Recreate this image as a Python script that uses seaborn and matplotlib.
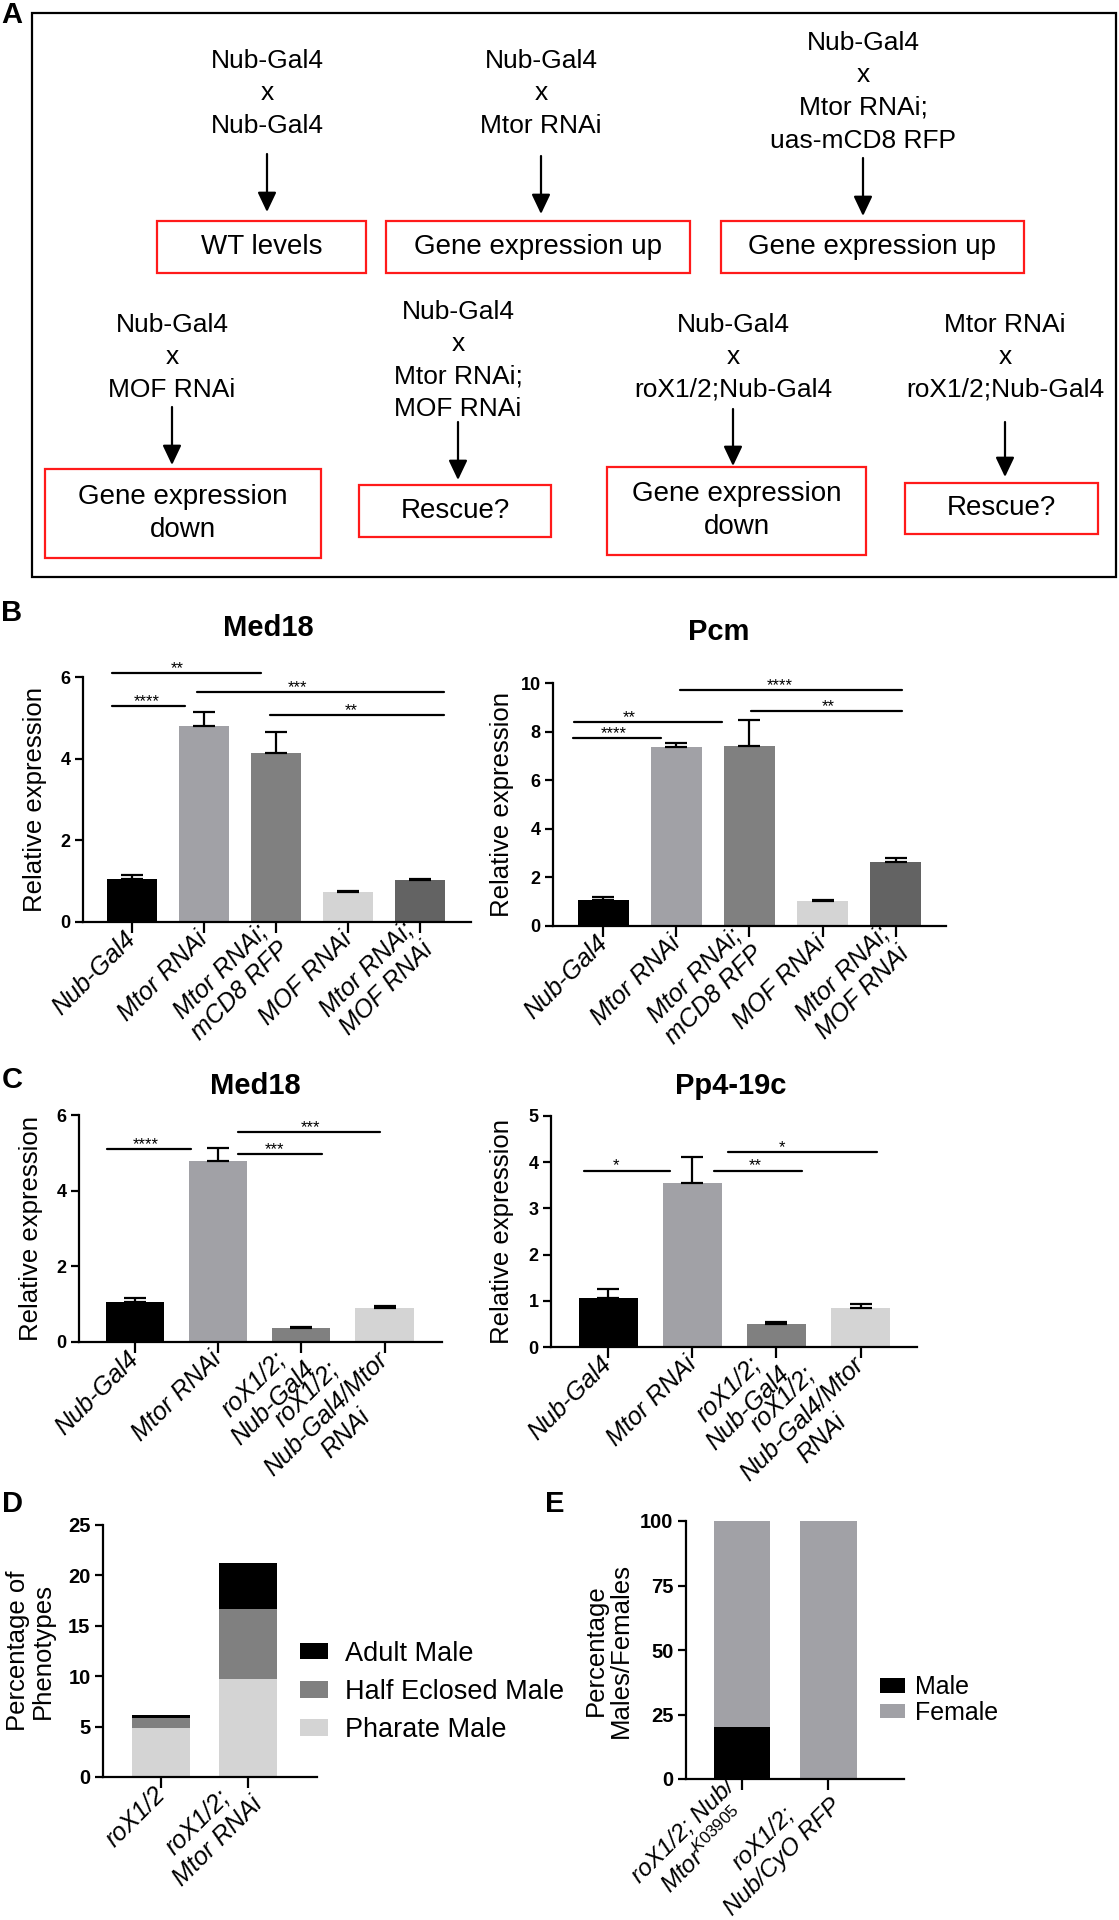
import numpy as np
import pandas as pd
import matplotlib.pyplot as plt
import seaborn as sns
from matplotlib.patches import Rectangle, Patch

# ---- panel A: crosses and expected outcome
crosses = ["Nub-Gal4\nx\nNub-Gal4", "Nub-Gal4\nx\nMtor RNAi", "Nub-Gal4\nx\nMtor RNAi;\nuas-mCD8 RFP",
           "Nub-Gal4\nx\nMOF RNAi", "Nub-Gal4\nx\nMtor RNAi;\nMOF RNAi",
           "Nub-Gal4\nx\nroX1/2;Nub-Gal4", "Mtor RNAi\nx\nroX1/2;Nub-Gal4"]
outcomes = ["WT levels", "Gene expression up", "Gene expression up", "Gene expression\ndown",
            "Rescue?", "Gene expression\ndown", "Rescue?"]

# ---- panel B
b_groups = ["Nub-Gal4", "Mtor RNAi", "Mtor RNAi;\nmCD8 RFP", "MOF RNAi", "Mtor RNAi;\nMOF RNAi"]
b_colors = ["#000000", "#a1a1a6", "#808080", "#d4d4d4", "#636363"]
med18_b = [1.05, 4.80, 4.13, 0.74, 1.04]
med18_b_err = [0.10, 0.34, 0.52, 0.03, 0.02]
pcm_b = [1.07, 7.35, 7.40, 1.03, 2.64]
pcm_b_err = [0.11, 0.20, 1.06, 0.02, 0.17]
# significance bars: (from, to, height, text x, stars)
med18_b_sig = [(-0.28, 1.79, 6.10, 0.63, "**"), (-0.28, 0.74, 5.28, 0.20, "****"),
               (0.91, 4.33, 5.63, 2.30, "***"), (1.92, 4.33, 5.06, 3.04, "**")]
pcm_b_sig = [(1.05, 4.09, 9.72, 2.41, "****"), (2.02, 4.09, 8.86, 3.08, "**"),
             (-0.40, 1.63, 8.38, 0.36, "**"), (-0.42, 0.79, 7.72, 0.14, "****")]

# ---- panel C
c_groups = ["Nub-Gal4", "Mtor RNAi", "roX1/2;\nNub-Gal4", "roX1/2;\nNub-Gal4/Mtor\nRNAi"]
c_colors = ["#000000", "#a1a1a6", "#808080", "#d4d4d4"]
med18_c = [1.05, 4.79, 0.38, 0.90]
med18_c_err = [0.11, 0.35, 0.02, 0.04]
pp4_c = [1.06, 3.54, 0.50, 0.84]
pp4_c_err = [0.19, 0.57, 0.04, 0.08]
med18_c_sig = [(-0.33, 0.67, 5.09, 0.13, "****"), (1.24, 2.95, 5.56, 2.11, "***"),
               (1.24, 2.25, 4.97, 1.68, "***")]
pp4_c_sig = [(-0.29, 0.74, 3.82, 0.09, "*"), (1.42, 3.19, 4.21, 2.07, "*"),
             (1.26, 2.30, 3.82, 1.75, "**")]

# ---- panel D
d_groups = ["roX1/2", "roX1/2;\nMtor RNAi"]
d_pharate = [4.90, 9.76]
d_half = [0.95, 6.86]
d_adult = [0.28, 4.61]
d_names = ["Adult Male", "Half Eclosed Male", "Pharate Male"]

# ---- panel E
e_groups = ["roX1/2; Nub/\nMtor$^{\\mathit{K03905}}$", "roX1/2;\nNub/CyO RFP"]
e_male = [20, 0]
e_female = [80, 100]

sns.set_theme(style="ticks")
plt.rcParams["font.family"] = ["Liberation Sans", "DejaVu Sans"]
plt.rcParams["mathtext.fontset"] = "custom"
plt.rcParams["mathtext.it"] = "Liberation Sans:italic"
plt.rcParams["mathtext.rm"] = "Liberation Sans"
for k in ["axes.edgecolor", "xtick.color", "ytick.color", "text.color", "axes.labelcolor"]:
    plt.rcParams[k] = "black"

W, H = 1119, 1920
fig = plt.figure(figsize=(W / 100, H / 100), dpi=100)


def add_ax(x0, y0, x1, y1):
    return fig.add_axes([x0 / W, 1 - y1 / H, (x1 - x0) / W, (y1 - y0) / H])


def fig_text(x, y, s, **kw):
    fig.text(x / W, 1 - y / H, s, **kw)


def style_ax(ax, groups, ylim, yticks, xlim, ylabel, lab_x, tick_size=13, xsize=18):
    ax.set_ylim(*ylim)
    ax.set_xlim(*xlim)
    sns.despine(ax=ax)
    for s in ["left", "bottom"]:
        ax.spines[s].set_linewidth(1.6)
    ax.tick_params(axis="y", width=1.6, length=6, pad=3)
    ax.tick_params(axis="x", width=1.6, length=8, pad=2)
    ax.set_yticks(yticks)
    ax.set_yticklabels([str(t) for t in yticks], fontweight="bold", fontsize=tick_size)
    ax.set_xticks(range(len(groups)))
    ax.set_xticklabels(groups, rotation=45, ha="right", va="center", rotation_mode="anchor",
                       fontsize=xsize, fontstyle="italic", multialignment="center")
    ax.set_xlabel("")
    ax.set_ylabel(ylabel, fontsize=18.5, linespacing=1.05)
    ax.yaxis.set_label_coords(lab_x, 0.5)


def expr_panel(ax, groups, values, errors, colors, sigs):
    sns.barplot(x=groups, y=values, hue=groups, palette=colors, width=0.7, saturation=1,
                linewidth=0, legend=False, ax=ax)
    n = len(values)
    ax.errorbar(np.arange(n), values, yerr=[np.zeros(n), errors], fmt="none", ecolor="black",
                elinewidth=1.6, capsize=8, capthick=1.6, zorder=5)
    for x1, x2, y, tx, stars in sigs:
        ax.plot([x1, x2], [y, y], color="black", lw=1.6, clip_on=False)
        ax.text(tx, y, stars, ha="center", va="baseline", fontsize=12, clip_on=False)


# ---------------- panel A
axA = fig.add_axes([0, 1 - 580 / H, 1, 580 / H])
axA.set_xlim(0, W)
axA.set_ylim(580, 0)
axA.axis("off")
axA.add_patch(Rectangle((32, 13), 1116 - 32, 577 - 13, fill=False, ec="black", lw=1.6))
node_layout = [
    (267, 61, 154, 212, (157, 221, 366, 273)),
    (541, 61, 156, 214, (386, 221, 690, 273)),
    (863, 43, 158, 216, (721, 221, 1024, 273)),
    (172, 325, 407, 465, (45, 469, 321, 558)),
    (458, 312, 422, 480, (359, 485, 551, 537)),
    (733, 325, 409, 466, (607, 467, 866, 555)),
    (1005, 325, 422, 477, (905, 483, 1098, 534)),
]
for cross, outcome, (cx, ty, a0, a1, box) in zip(crosses, outcomes, node_layout):
    for i, line in enumerate(cross.split("\n")):
        axA.text(cx, ty + i * 32.5, line, ha="center", va="center", fontsize=19)
    axA.annotate("", xy=(cx, a1), xytext=(cx, a0),
                 arrowprops=dict(arrowstyle="-|>,head_length=0.8,head_width=0.38", lw=1.6,
                                 color="black", shrinkA=0, shrinkB=0, mutation_scale=15))
    x0, y0, x1, y1 = box
    axA.add_patch(Rectangle((x0, y0), x1 - x0, y1 - y0, fill=False, ec="#ff1a1a", lw=1.6))
    axA.text((x0 + x1) / 2, (y0 + y1) / 2, outcome, ha="center", va="center", fontsize=20,
             linespacing=1.35)

# ---------------- panel B
ax = add_ax(83, 677, 471, 922)
expr_panel(ax, b_groups, med18_b, med18_b_err, b_colors, med18_b_sig)
style_ax(ax, b_groups, (0, 6), [0, 2, 4, 6], (-0.68, 4.71), "Relative expression", -0.094)

ax = add_ax(553, 683, 946, 926)
expr_panel(ax, b_groups, pcm_b, pcm_b_err, b_colors, pcm_b_sig)
style_ax(ax, b_groups, (0, 10), [0, 2, 4, 6, 8, 10], (-0.69, 4.69), "Relative expression", -0.098)

# ---------------- panel C
ax = add_ax(79, 1115, 442, 1342)
expr_panel(ax, c_groups, med18_c, med18_c_err, c_colors, med18_c_sig)
style_ax(ax, c_groups, (0, 6), [0, 2, 4, 6], (-0.67, 3.69), "Relative expression", -0.099)

ax = add_ax(551, 1116, 917, 1347)
expr_panel(ax, c_groups, pp4_c, pp4_c_err, c_colors, pp4_c_sig)
style_ax(ax, c_groups, (0, 5), [0, 1, 2, 3, 4, 5], (-0.68, 3.67), "Relative expression", -0.10)

# ---------------- panel D (stacked)
ax = add_ax(103, 1525, 317, 1777)
d_colors = ["#000000", "#808080", "#d4d4d4"]
d_mid = np.add(d_pharate, d_half)
d_top = d_mid + np.array(d_adult)
for vals, col in zip([d_top, d_mid, d_pharate], d_colors):
    sns.barplot(x=d_groups, y=vals, color=col, width=0.67, saturation=1, linewidth=0, ax=ax)
style_ax(ax, d_groups, (0, 25), [0, 5, 10, 15, 20, 25], (-0.67, 1.79),
         "Percentage of\nPhenotypes", -0.224, tick_size=14.5)
ax.legend(handles=[Patch(facecolor=c, edgecolor="none", label=n) for c, n in zip(d_colors, d_names)],
          loc="center left", bbox_to_anchor=(300 / W, 1 - 1692 / H), bbox_transform=fig.transFigure,
          frameon=False, fontsize=19.5, borderpad=0, borderaxespad=0, handlelength=1.05,
          handleheight=0.55, handletextpad=0.6, labelspacing=0.45)

# ---------------- panel E (stacked)
ax = add_ax(686, 1521, 904, 1779)
e_total = np.add(e_male, e_female)
sns.barplot(x=e_groups, y=e_total, color="#a1a1a6", width=0.66, saturation=1, linewidth=0, ax=ax)
sns.barplot(x=e_groups, y=e_male, color="#000000", width=0.66, saturation=1, linewidth=0, ax=ax)
style_ax(ax, e_groups, (0, 100), [0, 25, 50, 75, 100], (-0.65, 1.88),
         "Percentage\nMales/Females", -0.243, tick_size=14.5, xsize=17.5)
ax.legend(handles=[Patch(facecolor="#000000", edgecolor="none", label="Male"),
                   Patch(facecolor="#a1a1a6", edgecolor="none", label="Female")],
          loc="center left", bbox_to_anchor=(880 / W, 1 - 1700 / H), bbox_transform=fig.transFigure,
          frameon=False, fontsize=18, borderpad=0, borderaxespad=0, handlelength=1.0,
          handleheight=0.5, handletextpad=0.4, labelspacing=0.05)

# ---------------- titles and panel letters
fig_text(268, 628, "Med18", ha="center", va="center", fontsize=21, fontweight="bold")
fig_text(719, 632, "Pcm", ha="center", va="center", fontsize=21, fontweight="bold")
fig_text(255, 1086, "Med18", ha="center", va="center", fontsize=21, fontweight="bold")
fig_text(731, 1086, "Pp4-19c", ha="center", va="center", fontsize=21, fontweight="bold")
for letter, (x, y) in zip("ABCDE", [(12, 15), (12, 613), (12, 1080), (12, 1504), (555, 1504)]):
    fig_text(x, y, letter, ha="center", va="center", fontsize=21, fontweight="bold")

fig.savefig("out.png", dpi=100)
